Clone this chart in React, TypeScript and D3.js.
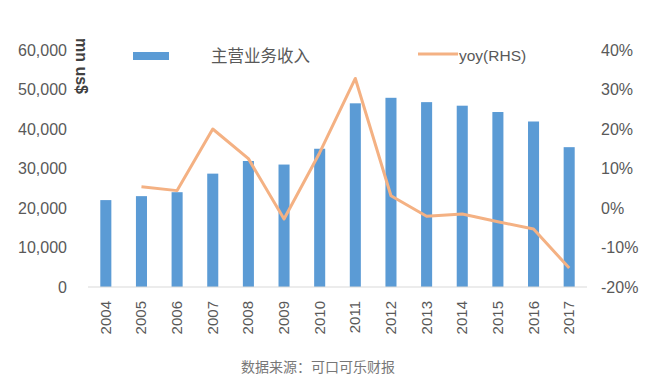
import * as d3 from 'd3';

const years = ['2004', '2005', '2006', '2007', '2008', '2009', '2010', '2011', '2012', '2013', '2014', '2015', '2016', '2017'];
// 主营业务收入, mn US$
const revenue = [22000, 23000, 24000, 28700, 31900, 31000, 35000, 46500, 47900, 46800, 45900, 44300, 41900, 35400];
// yoy growth, % (no value for 2004)
const yoy: (number | null)[] = [null, 5.4, 4.4, 20, 12.5, -2.8, 14, 32.8, 3.1, -2.1, -1.5, -3.5, -5.3, -15.2];
const leftTicks = [0, 10000, 20000, 30000, 40000, 50000, 60000];
const rightTicks = [-20, -10, 0, 10, 20, 30, 40];

const W = 662;
const H = 386;
const plot = { left: 88, right: 587, top: 50, bottom: 287 };
const FONT = '"Liberation Sans", Arial, sans-serif';
const CJK = '"Noto Sans CJK SC", sans-serif';

export default function App() {
  const x = d3.scaleBand<string>()
    .domain(years)
    .range([plot.left, plot.right])
    .paddingInner(0.69)
    .paddingOuter(0.345);
  const yL = d3.scaleLinear().domain([0, 60000]).range([plot.bottom, plot.top]);
  const yR = d3.scaleLinear().domain([-20, 40]).range([plot.bottom, plot.top]);
  const cx = (d: string) => (x(d) ?? 0) + x.bandwidth() / 2;

  const line = d3.line<number | null>()
    .defined(d => d !== null)
    .x((_, i) => cx(years[i]))
    .y(d => yR(d as number));

  const fmt = d3.format(',');

  return (
    <svg width={W} height={H} style={{ position: 'absolute', left: 0, top: 0, background: '#fff' }}>
      {/* bars */}
      {revenue.map((v, i) => (
        <rect key={years[i]} x={x(years[i])} y={yL(v)} width={x.bandwidth()}
          height={yL(0) - yL(v)} fill="#5b9bd5" />
      ))}
      {/* baseline */}
      <line x1={plot.left} x2={plot.right} y1={yL(0)} y2={yL(0)} stroke="#d9d9d9" strokeWidth={1} />
      {/* yoy line */}
      <path d={line(yoy) ?? ''} fill="none" stroke="#f4b183" strokeWidth={3} strokeLinejoin="round" />

      {/* left axis labels */}
      {leftTicks.map(t => (
        <text key={t} x={67} y={yL(t)} dy="0.35em" textAnchor="end" fontFamily={FONT}
          fontSize={16} fill="#595959">{fmt(t)}</text>
      ))}
      {/* right axis labels */}
      {rightTicks.map(t => (
        <text key={t} x={601} y={yR(t)} dy="0.35em" textAnchor="start" fontFamily={FONT}
          fontSize={16} fill="#595959">{t}%</text>
      ))}
      {/* x labels */}
      {years.map(d => (
        <text key={d} transform={`translate(${cx(d) + 5},301) rotate(-90)`} textAnchor="end"
          fontFamily={FONT} fontSize={15} fill="#595959">{d}</text>
      ))}
      {/* y axis title */}
      <text transform="translate(76,38) rotate(90)" textAnchor="start" fontFamily={FONT}
        fontSize={16} fontWeight="bold" fill="#404040">mn us$</text>

      {/* legend */}
      <rect x={133} y={52} width={36} height={8} fill="#5b9bd5" />
      <text x={211} y={56} dy="0.35em" fontFamily={CJK} fontSize={16.5} fill="#595959">主营业务收入</text>
      <line x1={418} x2={458} y1={54} y2={54} stroke="#f4b183" strokeWidth={3} />
      <text x={459} y={56} dy="0.35em" fontFamily={FONT} fontSize={15.5} fill="#595959">yoy(RHS)</text>

      {/* source */}
      <text x={318} y={367} dy="0.35em" textAnchor="middle" fontFamily={CJK} fontSize={14}
        fill="#777">数据来源：可口可乐财报</text>
    </svg>
  );
}
